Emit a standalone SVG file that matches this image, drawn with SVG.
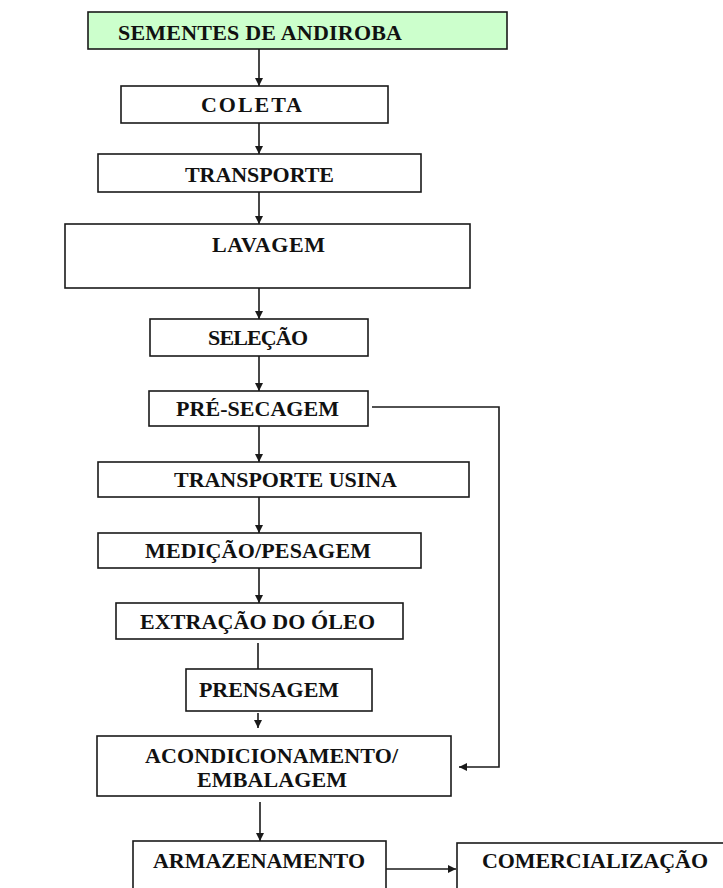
<svg xmlns="http://www.w3.org/2000/svg" width="723" height="888" viewBox="0 0 723 888">
<style>
.box{fill:#fff;stroke:#1a1a1a;stroke-width:1.6}
.green{fill:#ccffcc}
.lbl{font-family:"Liberation Serif","Times New Roman",serif;font-weight:bold;font-size:22px;fill:#111}
.ln{fill:none;stroke:#1a1a1a;stroke-width:1.6}
</style>
<defs>
<marker id="ah" viewBox="0 0 10 10" refX="10" refY="5" markerWidth="8" markerHeight="8" markerUnits="userSpaceOnUse" orient="auto">
<path d="M0,0 L10,5 L0,10 Z" fill="#1a1a1a"/>
</marker>
</defs>
<rect width="723" height="888" fill="#fff"/>
<g id="connectors">
<line class="ln" x1="259" y1="49" x2="259" y2="86" marker-end="url(#ah)"/>
<line class="ln" x1="259" y1="123" x2="259" y2="154" marker-end="url(#ah)"/>
<line class="ln" x1="259" y1="192" x2="259" y2="224" marker-end="url(#ah)"/>
<line class="ln" x1="259" y1="288" x2="259" y2="319" marker-end="url(#ah)"/>
<line class="ln" x1="259" y1="356" x2="259" y2="391" marker-end="url(#ah)"/>
<line class="ln" x1="259" y1="426" x2="259" y2="462" marker-end="url(#ah)"/>
<line class="ln" x1="259" y1="497" x2="259" y2="533" marker-end="url(#ah)"/>
<line class="ln" x1="259" y1="568" x2="259" y2="603" marker-end="url(#ah)"/>
<line class="ln" x1="258" y1="643" x2="258" y2="669"/>
<line class="ln" x1="258" y1="713" x2="258" y2="728" marker-end="url(#ah)"/>
<line class="ln" x1="260" y1="802" x2="260" y2="841" marker-end="url(#ah)"/>
<polyline class="ln" points="372,407 499,407 499,767 459,767" marker-end="url(#ah)"/>
<line class="ln" x1="386" y1="869" x2="456" y2="869" marker-end="url(#ah)"/>
</g>
<g id="sementes"><rect class="box green" x="88" y="12" width="419" height="37"/><text class="lbl" x="118" y="40" textLength="284">SEMENTES DE ANDIROBA</text></g>
<g id="coleta"><rect class="box" x="121" y="86" width="267" height="37"/><text class="lbl" x="201" y="112" textLength="101">COLETA</text></g>
<g id="transporte"><rect class="box" x="98" y="154" width="323" height="38"/><text class="lbl" x="185" y="182" textLength="149">TRANSPORTE</text></g>
<g id="lavagem"><rect class="box" x="65" y="224" width="405" height="64"/><text class="lbl" x="212" y="252" textLength="113">LAVAGEM</text></g>
<g id="selecao"><rect class="box" x="150" y="319" width="218" height="37"/><text class="lbl" x="208" y="345" textLength="100">SELEÇÃO</text></g>
<g id="presecagem"><rect class="box" x="149" y="391" width="219" height="35"/><text class="lbl" x="176" y="416" textLength="163">PRÉ-SECAGEM</text></g>
<g id="transporte-usina"><rect class="box" x="98" y="462" width="371" height="35"/><text class="lbl" x="174" y="487" textLength="223">TRANSPORTE USINA</text></g>
<g id="medicao"><rect class="box" x="98" y="533" width="323" height="35"/><text class="lbl" x="145" y="558" textLength="226">MEDIÇÃO/PESAGEM</text></g>
<g id="extracao"><rect class="box" x="116" y="603" width="287" height="36"/><text class="lbl" x="140" y="629" textLength="235">EXTRAÇÃO DO ÓLEO</text></g>
<g id="prensagem"><rect class="box" x="186" y="669" width="186" height="42"/><text class="lbl" x="199" y="697" textLength="140">PRENSAGEM</text></g>
<g id="acondicionamento"><rect class="box" x="97" y="736" width="354" height="60"/><text class="lbl" x="145" y="763" textLength="253">ACONDICIONAMENTO/</text><text class="lbl" x="197" y="787" textLength="150">EMBALAGEM</text></g>
<g id="armazenamento"><rect class="box" x="133" y="841" width="253" height="60"/><text class="lbl" x="153" y="868" textLength="212">ARMAZENAMENTO</text></g>
<g id="comercializacao"><rect class="box" x="457" y="843" width="280" height="60"/><text class="lbl" x="482" y="868" textLength="226">COMERCIALIZAÇÃO</text></g>
</svg>
